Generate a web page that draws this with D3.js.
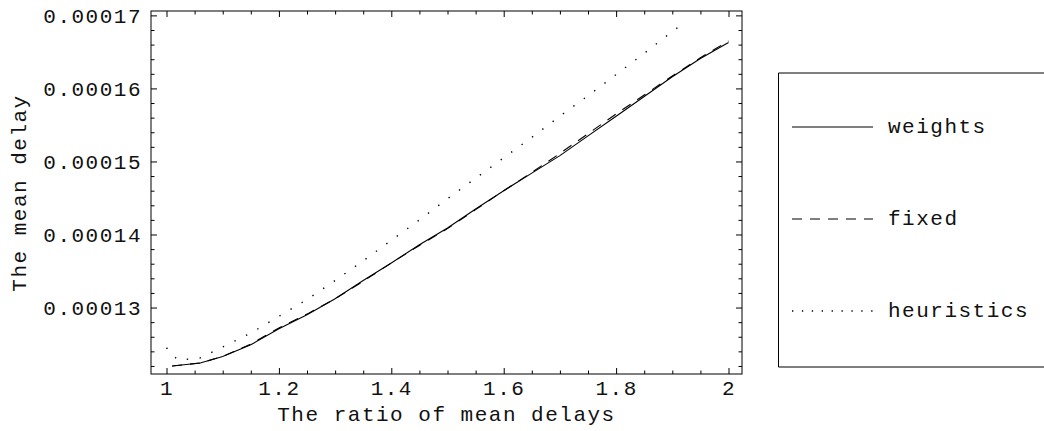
<!DOCTYPE html>
<html><head><meta charset="utf-8">
<script src="https://cdn.jsdelivr.net/npm/d3@7"></script>
<style>
body{margin:0;background:#fff;}
text{font-family:"Liberation Mono","DejaVu Sans Mono",monospace;font-size:21px;letter-spacing:1.5px;fill:#111;}
</style></head>
<body>
<svg id="c" width="1044" height="431"></svg>
<script>
// ---- data ----
const xWeights = [1.01,1.06,1.10,1.15,1.20,1.25,1.30,1.35,1.40,1.45,1.50,1.55,1.60,1.65,1.70,1.75,1.80,1.85,1.90,1.95,2.00];
const weights  = [0.0001220,0.0001224,0.0001233,0.0001249,0.0001271,0.0001290,0.0001312,0.0001337,0.0001361,0.0001386,0.0001409,0.0001435,0.0001460,0.0001484,0.0001508,0.0001535,0.0001562,0.0001589,0.0001616,0.0001641,0.0001663];
const xFixed   = [1.01,1.06,1.10,1.15,1.20,1.25,1.30,1.35,1.40,1.45,1.50,1.55,1.60,1.65,1.70,1.75,1.80,1.85,1.90,1.95,2.00];
const fixed    = [0.0001220,0.0001224,0.0001233,0.0001250,0.0001272,0.0001291,0.0001312,0.0001336,0.0001361,0.0001385,0.0001408,0.0001434,0.0001460,0.0001485,0.0001511,0.0001538,0.0001565,0.0001591,0.0001617,0.0001642,0.0001665];
const xHeur    = [1.00,1.02,1.06,1.10,1.15,1.20,1.25,1.30,1.35,1.40,1.45,1.50,1.55,1.60,1.65,1.70,1.75,1.80,1.85,1.90,1.92];
const heuristics = [0.0001245,0.0001228,0.0001231,0.0001246,0.0001265,0.0001288,0.0001311,0.0001337,0.0001364,0.0001392,0.0001420,0.0001449,0.0001477,0.0001505,0.0001533,0.0001562,0.0001590,0.0001619,0.0001648,0.0001678,0.0001689];
const xTicks = [1,1.2,1.4,1.6,1.8,2];
const yTicks = [0.00013,0.00014,0.00015,0.00016,0.00017];
const seriesNames = ["weights","fixed","heuristics"];
const xTitle = "The ratio of mean delays";
const yTitle = "The mean delay";

// ---- layout ----
const L=151,R=742,T=11,B=374;
const svg=d3.select("#c");
const x=d3.scaleLinear().domain([0.9724,2.024]).range([L,R]);
const y=d3.scaleLinear().domain([0.0001209,0.0001706]).range([B,T]);

const xMinor=d3.range(1,2.0001,0.05).map(v=>+v.toFixed(2)).filter(v=>!xTicks.some(t=>Math.abs(t-v)<1e-9));
const yMinor=d3.range(122,171,2).map(v=>v*1e-6).filter(v=>!yTicks.some(t=>Math.abs(t-v)<1e-10) && v>y.domain()[0] && v<y.domain()[1]);

function strip(g){g.select(".domain").remove();g.selectAll("line").attr("stroke","#000");}
const fmtX=v=>String(+v.toFixed(1));
const fmtY=d3.format(".5f");
// bottom
svg.append("g").attr("class","xl").attr("transform",`translate(0,${B})`).call(d3.axisBottom(x).tickValues(xTicks).tickFormat(fmtX).tickSize(-6).tickPadding(6)).call(strip);
svg.append("g").attr("transform",`translate(0,${B})`).call(d3.axisBottom(x).tickValues(xMinor).tickFormat("").tickSize(-3.5)).call(strip);
// top
svg.append("g").attr("transform",`translate(0,${T})`).call(d3.axisTop(x).tickValues(xTicks).tickFormat("").tickSize(-6)).call(strip);
svg.append("g").attr("transform",`translate(0,${T})`).call(d3.axisTop(x).tickValues(xMinor).tickFormat("").tickSize(-3.5)).call(strip);
// left
svg.append("g").attr("class","yl").attr("transform",`translate(${L},0)`).call(d3.axisLeft(y).tickValues(yTicks).tickFormat(fmtY).tickSize(-6).tickPadding(9)).call(strip);
svg.append("g").attr("transform",`translate(${L},0)`).call(d3.axisLeft(y).tickValues(yMinor).tickFormat("").tickSize(-3.5)).call(strip);
// right
svg.append("g").attr("transform",`translate(${R},0)`).call(d3.axisRight(y).tickValues(yTicks).tickFormat("").tickSize(-6)).call(strip);
svg.append("g").attr("transform",`translate(${R},0)`).call(d3.axisRight(y).tickValues(yMinor).tickFormat("").tickSize(-3.5)).call(strip);
svg.selectAll("g.xl text, g.yl text").attr("font-family",null).attr("font-size",null).style("font-family",'"Liberation Mono",monospace').style("font-size","21px").style("letter-spacing","1.5px").attr("fill","#111");

// frame
svg.append("rect").attr("x",L).attr("y",T).attr("width",R-L).attr("height",B-T).attr("fill","none").attr("stroke","#000").attr("stroke-width",1);

// lines
const line=d3.line().x(d=>x(d[0])).y(d=>y(d[1]));
const styles=[{dash:null,w:1.1},{dash:"10,8",w:1.1},{dash:"1.4,11.5",w:1.4}];
const data=[d3.zip(xWeights,weights),d3.zip(xFixed,fixed),d3.zip(xHeur,heuristics)];
data.forEach((d,i)=>{
  svg.append("path").datum(d).attr("d",line).attr("fill","none").attr("stroke","#000")
    .attr("stroke-width",styles[i].w).attr("stroke-dasharray",styles[i].dash);
});

// axis titles
svg.append("text").attr("x",(L+R)/2).attr("y",415).attr("text-anchor","middle").attr("dominant-baseline","central").text(xTitle);
svg.append("text").attr("transform","translate(20,193) rotate(-90)").attr("text-anchor","middle").attr("dominant-baseline","central").text(yTitle);

// legend
const lg=svg.append("g");
lg.append("path").attr("d","M1050,73H778.5V367H1050").attr("fill","none").attr("stroke","#000").attr("stroke-width",1);
const legY=[127,219,311];
const legDash=[null,"10,8","1.3,8.6"];
seriesNames.forEach((n,i)=>{
  lg.append("line").attr("x1",792).attr("x2",873).attr("y1",legY[i]).attr("y2",legY[i]).attr("stroke","#000")
    .attr("stroke-width",i==2?1.3:1.1).attr("stroke-dasharray",legDash[i]);
  lg.append("text").attr("x",888).attr("y",legY[i]).attr("dominant-baseline","central").text(n);
});
</script>
</body></html>
